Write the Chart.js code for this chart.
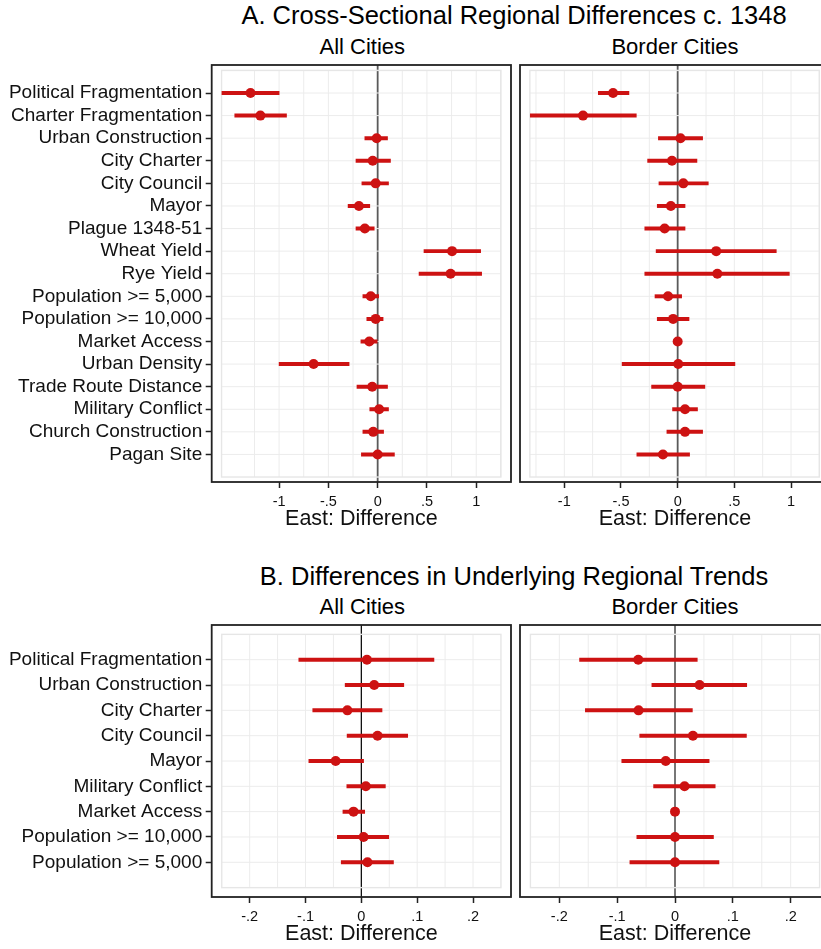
<!DOCTYPE html>
<html>
<head>
<meta charset="utf-8">
<title>Regional differences</title>
<script src="https://cdn.jsdelivr.net/npm/chart.js@4.4.1/dist/chart.umd.min.js"></script>
<style>
  html, body { margin: 0; padding: 0; background: #fff; width: 821px; height: 949px; overflow: hidden; }
  body { position: relative; font-family: "Liberation Sans", Arial, Helvetica, sans-serif; color: #000; }
  .t { position: absolute; white-space: nowrap; line-height: 1; transform: translateX(-50%); }
  canvas { position: absolute; }
</style>
</head>
<body>
<div class="t" style="left:514px; top:3.4px; font-size:25.5px">A. Cross-Sectional Regional Differences c. 1348</div>
<div class="t" style="left:362.3px; top:35.7px; font-size:22px">All Cities</div>
<div class="t" style="left:675px; top:35.7px; font-size:22px">Border Cities</div>
<div class="t" style="left:514px; top:564.1px; font-size:25.5px">B. Differences in Underlying Regional Trends</div>
<div class="t" style="left:362.3px; top:596.4px; font-size:22px">All Cities</div>
<div class="t" style="left:675px; top:596.4px; font-size:22px">Border Cities</div>

<canvas id="aAll" width="516" height="472" style="left:0; top:60px"></canvas>
<canvas id="aBorder" width="320" height="472" style="left:515px; top:60px"></canvas>
<canvas id="bAll" width="516" height="327" style="left:0; top:620px"></canvas>
<canvas id="bBorder" width="320" height="327" style="left:515px; top:620px"></canvas>

<script>
// ---- Panel A: cross-sectional differences c. 1348 ----
const labelsA = ["Political Fragmentation", "Charter Fragmentation", "Urban Construction",
  "City Charter", "City Council", "Mayor", "Plague 1348-51", "Wheat Yield", "Rye Yield",
  "Population >= 5,000", "Population >= 10,000", "Market Access", "Urban Density",
  "Trade Route Distance", "Military Conflict", "Church Construction", "Pagan Site"];

const aAllEst = [-1.29, -1.19, -0.01, -0.05, -0.02, -0.19, -0.13, 0.755, 0.74, -0.07, -0.02, -0.085, -0.65, -0.055, 0.015, -0.045, 0.0];
const aAllLo  = [-1.58, -1.45, -0.13, -0.22, -0.16, -0.30, -0.22, 0.47, 0.42, -0.15, -0.11, -0.17, -1.0, -0.21, -0.08, -0.15, -0.165];
const aAllHi  = [-1.0, -0.925, 0.10, 0.13, 0.11, -0.08, -0.035, 1.045, 1.055, 0.01, 0.055, 0.0, -0.29, 0.10, 0.11, 0.06, 0.17];

const aBorderEst = [-0.57, -0.835, 0.025, -0.05, 0.05, -0.06, -0.115, 0.34, 0.35, -0.085, -0.04, 0.0, 0.005, 0.0, 0.065, 0.065, -0.13];
const aBorderLo  = [-0.70, -1.30, -0.17, -0.265, -0.165, -0.18, -0.29, -0.19, -0.29, -0.20, -0.18, 0.0, -0.49, -0.23, -0.045, -0.095, -0.36];
const aBorderHi  = [-0.43, -0.365, 0.22, 0.17, 0.27, 0.065, 0.065, 0.87, 0.985, 0.035, 0.10, 0.0, 0.505, 0.24, 0.175, 0.22, 0.105];

const ticksA = [-1, -0.5, 0, 0.5, 1];
const gridA = [-1.25, -1, -0.75, -0.5, -0.25, 0, 0.25, 0.5, 0.75, 1, 1.25];

// ---- Panel B: differences in underlying regional trends ----
const labelsB = ["Political Fragmentation", "Urban Construction", "City Charter", "City Council",
  "Mayor", "Military Conflict", "Market Access", "Population >= 10,000", "Population >= 5,000"];

const bAllEst = [0.01, 0.023, -0.025, 0.029, -0.046, 0.008, -0.014, 0.004, 0.011];
const bAllLo  = [-0.112, -0.029, -0.087, -0.0255, -0.094, -0.026, -0.033, -0.043, -0.036];
const bAllHi  = [0.130, 0.076, 0.037, 0.083, 0.004, 0.043, 0.006, 0.049, 0.0575];

const bBorderEst = [-0.0635, 0.0425, -0.063, 0.031, -0.016, 0.0165, 0.0, 0.0, 0.0];
const bBorderLo  = [-0.165, -0.040, -0.155, -0.061, -0.092, -0.037, 0.0, -0.066, -0.078];
const bBorderHi  = [0.0385, 0.124, 0.030, 0.1235, 0.059, 0.0695, 0.0, 0.0665, 0.076];

const ticksB = [-0.2, -0.1, 0, 0.1, 0.2];
const gridB = [-0.2, -0.15, -0.1, -0.05, 0, 0.05, 0.1, 0.15, 0.2];

const FONT = '"Liberation Sans", Arial, Helvetica, sans-serif';
const RED = '#cd1212';
Chart.defaults.font.family = FONT;
Chart.defaults.color = '#111';

// Stata-style tick text: drop the leading zero (".5", "-.1")
function fmtTick(v) {
  if (v === 0) return '0';
  const s = String(Math.abs(v)).replace(/^0(?=\.)/, '');
  return (v < 0 ? '-' : '') + s;
}

// Light inner grid, inner plot-region outline, zero reference line and outer frame
const panelPlugin = {
  id: 'panel',
  beforeDatasetsDraw(chart, args, o) {
    const { ctx, chartArea: a, scales: { x, y } } = chart;
    const x0 = x.getPixelForValue(o.xInner[0]), x1 = x.getPixelForValue(o.xInner[1]);
    const y0 = y.getPixelForValue(o.yInner[0]), y1 = y.getPixelForValue(o.yInner[1]);
    const seg = (ax, ay, bx, by) => { ctx.beginPath(); ctx.moveTo(ax, ay); ctx.lineTo(bx, by); ctx.stroke(); };
    ctx.save();
    ctx.lineWidth = 1;
    ctx.strokeStyle = o.gridColor;
    o.gridX.forEach(v => { if (v !== 0) { const p = x.getPixelForValue(v); seg(p, y0, p, y1); } });
    const rows = () => {
      for (let i = o.yInner[0] + 1; i < o.yInner[1]; i++) {
        const p = y.getPixelForValue(i); seg(x0, p, x1, p);
      }
    };
    if (!o.rowsOverZero) rows();
    ctx.strokeStyle = o.zeroColor;
    ctx.lineWidth = o.zeroWidth;
    const zp = x.getPixelForValue(0);
    seg(zp, a.top, zp, a.bottom);
    ctx.lineWidth = 1;
    ctx.strokeStyle = o.gridColor;
    if (o.rowsOverZero) rows();
    ctx.strokeStyle = o.rectColor;
    ctx.lineWidth = 1.4;
    ctx.strokeRect(x0, y0, x1 - x0, y1 - y0);
    ctx.restore();
  },
  afterDatasetsDraw(chart) {
    const { ctx, chartArea: a } = chart;
    ctx.save();
    ctx.strokeStyle = '#222';
    ctx.lineWidth = 1.8;
    ctx.strokeRect(a.left, a.top, a.right - a.left, a.bottom - a.top);
    ctx.restore();
  }
};

function makePanel(id, cfg) {
  const n = cfg.est.length;
  const idx = cfg.est.map((_, i) => i);
  const tickGrid = { offset: false, drawOnChartArea: false, drawTicks: true, tickLength: 6, tickColor: '#222', tickWidth: 1.5 };
  const yScale = {
    type: 'linear', reverse: true, min: cfg.yMin, max: cfg.yMax, offset: false,
    display: !!cfg.labels,
    border: { display: false },
    grid: tickGrid,
    afterBuildTicks(s) { s.ticks = idx.map(i => ({ value: i })); },
    afterFit(s) {
      if (cfg.labels) s.width = 211.7;
      s.paddingTop = 0; s.paddingBottom = 0;
    },
    ticks: {
      autoSkip: false, padding: 3.5, color: '#111', font: { size: 19 },
      callback: v => (cfg.labels ? cfg.labels[v] : '')
    }
  };

  return new Chart(document.getElementById(id), {
    type: 'bar',
    data: {
      datasets: [
        {
          type: 'scatter',
          order: 0,
          data: idx.map(i => ({ x: cfg.est[i], y: i })),
          pointRadius: 5,
          pointBackgroundColor: RED,
          pointBorderWidth: 0,
          showLine: false
        },
        {
          type: 'bar',
          order: 1,
          indexAxis: 'y',
          data: idx.map(i => ({ x: [cfg.lo[i], cfg.hi[i]], y: i })),
          backgroundColor: RED,
          borderWidth: 0,
          borderSkipped: false,
          barThickness: 3.3
        }
      ]
    },
    options: {
      indexAxis: 'y',
      responsive: false,
      animation: false,
      events: [],
      layout: { padding: cfg.padding },
      plugins: {
        legend: { display: false },
        tooltip: { enabled: false },
        panel: {
          xInner: cfg.xInner, yInner: [-1, n], gridX: cfg.gridX,
          gridColor: '#ececec', rectColor: '#e6e6e6',
          zeroColor: cfg.zeroColor, zeroWidth: cfg.zeroWidth, rowsOverZero: cfg.rowsOverZero
        }
      },
      scales: {
        x: {
          type: 'linear', min: cfg.xMin, max: cfg.xMax, offset: false,
          border: { display: false },
          grid: tickGrid,
          afterFit(s) { s.height = 50; s.paddingLeft = 0; s.paddingRight = 0; },
          afterBuildTicks(s) { s.ticks = cfg.ticks.map(v => ({ value: v })); },
          ticks: {
            autoSkip: false, maxRotation: 0, padding: 5.5, color: '#111',
            font: { size: 14.5 }, callback: v => fmtTick(v)
          },
          title: {
            display: true, text: 'East: Difference', color: '#111',
            font: { size: 21.5 }, padding: { top: 0, bottom: 0 }
          }
        },
        y: yScale
      }
    },
    plugins: [panelPlugin]
  });
}

makePanel('aAll', {
  labels: labelsA, est: aAllEst, lo: aAllLo, hi: aAllHi,
  xMin: -1.684, xMax: 1.353, xInner: [-1.584, 1.25], gridX: gridA, ticks: ticksA,
  yMin: -1.24, yMax: 17.22, padding: { left: 0, top: 2.5, right: 3, bottom: 0 },
  zeroColor: '#5a5a5a', zeroWidth: 1.8, rowsOverZero: true
});
makePanel('aBorder', {
  labels: null, est: aBorderEst, lo: aBorderLo, hi: aBorderHi,
  xMin: -1.391, xMax: 1.344, xInner: [-1.304, 1.25], gridX: gridA, ticks: ticksA,
  yMin: -1.24, yMax: 17.22, padding: { left: 2.7, top: 2.5, right: 2.7, bottom: 0 },
  zeroColor: '#5a5a5a', zeroWidth: 1.8, rowsOverZero: true
});
makePanel('bAll', {
  labels: labelsB, est: bAllEst, lo: bAllLo, hi: bAllHi,
  xMin: -0.268, xMax: 0.268, xInner: [-0.25, 0.25], gridX: gridB, ticks: ticksB,
  yMin: -1.37, yMax: 9.37, padding: { left: 0, top: 3.3, right: 3, bottom: 0 },
  zeroColor: '#111', zeroWidth: 1.3, rowsOverZero: false
});
makePanel('bBorder', {
  labels: null, est: bBorderEst, lo: bBorderLo, hi: bBorderHi,
  xMin: -0.268, xMax: 0.268, xInner: [-0.25, 0.25], gridX: gridB, ticks: ticksB,
  yMin: -1.37, yMax: 9.37, padding: { left: 2.7, top: 3.3, right: 2.7, bottom: 0 },
  zeroColor: '#555', zeroWidth: 1.6, rowsOverZero: true
});
</script>
</body>
</html>
